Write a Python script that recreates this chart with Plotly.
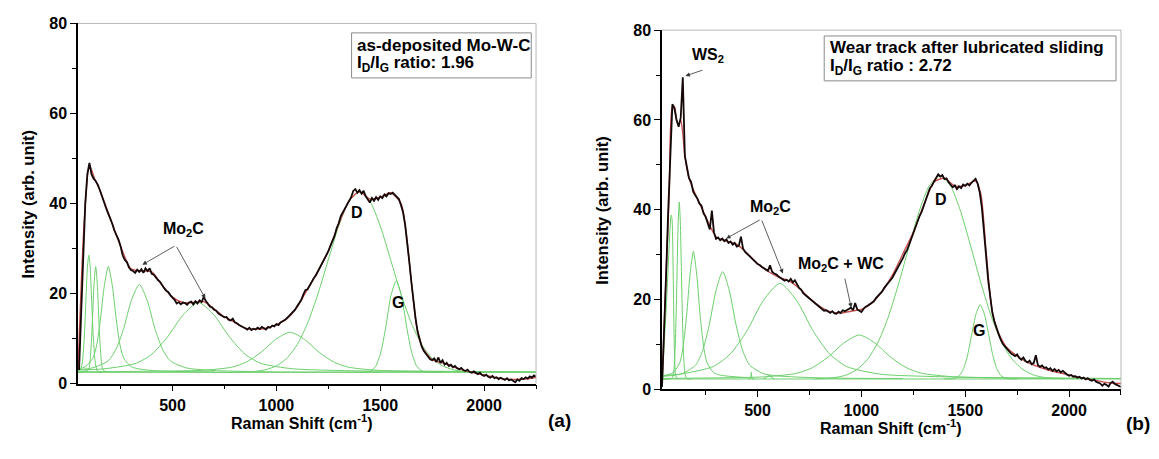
import plotly.graph_objects as go

FONT = "Liberation Sans"
GREEN = "#6ccf6c"
RED = "#c85050"
BLACK = "#140808"

# ---------------- Panel (a): as-deposited ----------------
a_x = list(range(50, 2251, 10))
a_y = [
    3, 16, 30, 40, 46.5, 49, 46.5, 45.5, 45, 44.2,
    43, 41.5, 40, 39, 37.8, 36.8, 35.5, 34, 33, 32,
    30.5, 28.5, 27.5, 27, 25.8, 25.2, 25, 24.6, 25.3, 24.8,
    25.4, 24.6, 25.6, 25, 25.6, 24.4, 24.2, 23.5, 23, 22.6,
    21.8, 21.2, 20.6, 20.3, 19.6, 19.2, 18.6, 17.8, 18.1, 17.6,
    18, 17.9, 17.5, 18, 18.2, 17.6, 18.3, 17.8, 18.5, 18.1,
    19.2, 18.4, 17.6, 17.1, 16.9, 16.4, 16.2, 15.6, 15.3, 15.0,
    14.7, 14.8, 14.2, 14.0, 14.4, 13.6, 13.4, 13.0, 12.8, 12.5,
    12.3, 12.0, 12.4, 11.9, 12.2, 12.0, 12.4, 12.1, 12.6, 12.3,
    12.0, 12.6, 12.4, 12.9, 12.7, 13.2, 13.0, 13.6, 13.8, 14.1,
    14.5, 15.0, 15.4, 16.0, 16.4, 17.2, 17.8, 18.6, 19.8, 20.8,
    20.9, 21.8, 22.6, 23.4, 24.0, 24.9, 25.8, 26.6, 27.5, 28.2,
    29.4, 30.6, 31.6, 32.8, 34.5, 35.6, 37.2, 38.0, 39.1, 39.6,
    40.6, 41.4, 42.8, 43.2, 42.4, 43.0, 42.2, 42.8, 41.6, 41.0,
    40.2, 41.2, 40.6, 41.4, 40.8, 41.6, 41.2, 42.0, 41.6, 42.3,
    42.1, 42.4, 42.0, 41.6, 41.0, 39.6, 38.0, 35.2, 31.5, 27.0,
    22.5, 18.0, 14.5, 11.5, 9.5, 8.2, 7.2, 6.5, 5.8, 5.4,
    5.2, 5.6, 4.8, 5.8, 4.6, 5.2, 4.2, 4.6, 3.9, 4.2,
    3.6, 3.9, 3.4, 3.2, 3.5, 3.0, 2.8, 3.1, 2.6, 2.4,
    2.7, 2.3, 2.1, 2.4, 1.9, 1.7, 2.0, 1.5, 1.3, 1.7,
    1.2, 1.4, 1.0, 1.3, 1.1, 0.8, 1.2, 0.7, 0.9, 0.5,
    0.3, 0.9, 0.6, 1.2, 1.0, 1.4, 1.1, 1.6, 1.3, 1.8,
    1.5,
]
a_fit_x = [45, 75, 100, 125, 150, 200, 250, 300, 350, 400, 450, 500, 550, 600, 650,
           700, 750, 800, 850, 900, 950, 1000, 1050, 1100, 1150, 1200, 1250, 1300, 1350, 1400,
           1450, 1500, 1550, 1600, 1625, 1650, 1675, 1700, 1750, 1800, 1900, 2000, 2100, 2200, 2250]
a_fit_y = [3, 36, 48.5, 45.5, 43, 36.8, 30.5, 25.5, 25, 24.8, 21.8, 19.2, 18, 18, 18.2,
           16.6, 14.8, 13.6, 12.3, 12.1, 12.3, 13.1, 14.4, 17.0, 21.0, 25.0, 29.4, 35.4, 40.6, 42.6,
           41.0, 41.4, 42.4, 40.0, 33.5, 22.5, 12.8, 8.3, 5.3, 4.6, 3.0, 1.9, 1.0, 1.0, 1.4]

a_base_x = [45, 2250]
a_base_y = [2.5, 2.5]
a_p1_x = [45, 55, 65, 75, 85, 91, 97, 103, 109, 119, 129, 140, 160]
a_p1_y = [2.6, 3.0, 4.4, 10.0, 20.5, 26.3, 28.5, 26.3, 20.5, 10.0, 4.4, 2.7, 2.5]
a_p2_x = [45, 95, 105, 115, 122, 130, 138, 145, 155, 165, 185]
a_p2_y = [2.5, 3.1, 6.2, 14.6, 22.0, 26.0, 22.0, 14.6, 6.2, 3.1, 2.5]
a_p3_x = [45, 79, 116, 135, 153, 172, 191, 210, 229, 247, 266, 303, 400, 700]
a_p3_y = [3.3, 3.7, 5.6, 8.6, 14.3, 21.8, 26.0, 21.8, 14.3, 8.6, 5.6, 3.7, 2.9, 2.6]
a_p4_x = [45, 115, 190, 228, 265, 302, 340, 378, 415, 452, 490, 565, 700, 1000, 1500]
a_p4_y = [3.1, 3.5, 5.05, 7.6, 12.25, 18.5, 22.0, 18.5, 12.25, 7.6, 5.05, 3.5, 2.9, 2.6, 2.55]
a_p5_x = [45, 175, 325, 400, 475, 550, 625, 700, 775, 850, 925, 1075, 1300, 1600, 2250]
a_p5_y = [3.0, 3.3, 4.5, 6.5, 10.3, 15.2, 18.0, 15.2, 10.3, 6.5, 4.5, 3.3, 2.9, 2.7, 2.55]
a_p6_x = [45, 506, 646, 786, 856, 926, 996, 1066, 1136, 1206, 1276, 1346, 1486, 1626, 2250]
a_p6_y = [2.6, 2.8, 2.95, 3.65, 4.8, 6.95, 9.8, 11.4, 9.8, 6.95, 4.8, 3.65, 2.95, 2.8, 2.6]
a_D_x = [700, 800, 900, 950, 1000, 1050, 1100, 1150, 1200, 1250, 1300, 1350, 1400,
         1450, 1500, 1550, 1600, 1650, 1700, 1750, 1800, 1850, 1900, 2000]
a_D_y = [2.5, 2.52, 2.72, 3.1, 3.94, 5.6, 8.65, 13.4, 19.9, 27.5, 35.0, 40.5, 42.5,
         40.5, 35.0, 27.5, 19.9, 13.4, 8.65, 5.6, 3.94, 3.1, 2.72, 2.52]
a_G_x = [1400, 1427, 1452, 1477, 1502, 1527, 1552, 1577, 1602, 1627, 1652, 1677, 1702, 1727, 1800]
a_G_y = [2.5, 2.53, 2.77, 3.77, 6.8, 12.65, 19.6, 22.8, 19.6, 12.65, 6.8, 3.77, 2.77, 2.53, 2.5]

# ---------------- Panel (b): wear track ----------------
b_x = list(range(40, 2251, 10))
b_y = [
    0.5, 12, 26, 40, 53, 63.5, 62.5, 60, 58.5, 60.5,
    69.5, 52, 49.5, 47, 46.2, 44.0, 43.2, 42.5, 41.4, 40.9,
    39.2, 38.4, 37.0, 35.6, 39.8, 35.0, 33.5, 33.8, 33.2, 33.6,
    33.0, 33.4, 32.6, 32.9, 32.2, 32.6, 31.8, 32.0, 34.0, 31.4,
    30.6, 30.2, 29.6, 29.2, 28.8, 28.4, 27.9, 27.7, 27.3, 27.0,
    26.8, 26.4, 27.6, 26.2, 25.8, 25.6, 25.2, 24.9, 24.6, 24.2,
    24.4, 24.0, 24.6, 23.8, 24.3, 23.4, 22.6, 22.2, 21.4, 21.0,
    20.6, 20.3, 19.9, 19.4, 19.0, 18.6, 18.3, 17.8, 17.5, 17.6,
    17.3, 17.0, 17.4, 16.9, 16.8, 17.3, 17.0, 17.6, 17.4, 17.7,
    17.9, 18.2, 17.6, 19.2, 17.8, 17.4, 17.2, 17.9, 18.4, 18.6,
    18.9, 19.3, 19.6, 20.3, 20.8, 21.3, 21.8, 22.6, 23.2, 23.8,
    24.2, 24.9, 25.8, 26.6, 27.3, 28.4, 29.2, 30.3, 31.0, 32.2,
    33.5, 35.0, 36.3, 37.2, 38.6, 39.5, 41.0, 42.4, 43.5, 44.8,
    45.4, 46.3, 47.2, 47.9, 47.4, 47.7, 46.8, 47.0, 46.1, 45.6,
    45.0, 45.4, 44.6, 45.2, 44.8, 45.6, 45.3, 45.8, 45.4, 46.0,
    46.4, 46.9, 45.8, 43.8, 40.5, 36.0, 30.0, 24.5, 20.4, 17.2,
    15.2, 13.6, 12.4, 11.2, 10.2, 9.6, 9.0, 8.6, 8.0, 7.7,
    7.4, 7.8, 7.0, 6.6, 7.1, 6.3, 6.0, 6.4, 5.6, 5.9,
    7.6, 5.4, 5.0, 5.3, 4.8, 4.9, 4.4, 4.7, 4.1, 4.5,
    4.0, 4.3, 3.8, 4.1, 3.6, 3.3, 3.0, 3.2, 2.8, 2.9,
    2.6, 2.8, 2.4, 2.6, 2.2, 2.5, 2.1, 1.9, 2.2, 1.7,
    1.5, 1.3, 0.8, 1.2, 1.0, 0.6, 1.4, 1.7, 1.2, 1.0,
    0.7, 0.5,
]
b_fit_x = [40, 60, 75, 90, 100, 110, 120, 130, 140, 150, 170, 200, 250, 300, 350,
           400, 450, 500, 550, 600, 650, 700, 750, 800, 850, 900, 950, 1000, 1050, 1100,
           1150, 1200, 1250, 1300, 1350, 1400, 1450, 1500, 1550, 1575, 1600, 1625, 1650, 1700, 1750,
           1800, 1900, 2000, 2100, 2200, 2250]
b_fit_y = [1, 26, 44, 63, 63, 60, 59, 60, 57, 52, 47, 43.5, 38.5, 34, 33,
           32.3, 30.3, 28, 26.3, 25, 24.2, 22.5, 20.3, 18.5, 17.3, 17.0, 17.4, 17.8, 19.2, 21.8,
           25.5, 30.2, 35.0, 41.0, 46.2, 47.0, 45.3, 45.4, 46.4, 43.5, 31.0, 19.0, 13.6, 9.3, 7.4,
           6.0, 4.3, 3.2, 2.2, 1.4, 1.3]

b_base_x = [40, 2250]
b_base_y = [2.3, 2.3]
b_p1_x = [42, 63, 84, 88, 94, 100, 106, 115]
b_p1_y = [2.5, 20.6, 38.8, 38.0, 25.0, 8.0, 3.0, 2.3]
b_p2_x = [40, 85, 93, 98, 103, 108, 113, 118, 123, 128, 133, 138, 143, 148, 153, 161, 180]
b_p2_y = [2.3, 2.4, 2.97, 4.6, 8.7, 16.5, 27.3, 37.4, 41.7, 37.4, 27.3, 16.5, 8.7, 4.6, 2.97, 2.4, 2.3]
b_p3_x = [41, 61, 94, 126, 142, 158.5, 175, 191, 207, 223.5, 240, 256, 288, 321, 450]
b_p3_y = [2.9, 3.15, 3.75, 6.0, 9.7, 16.5, 25.6, 30.7, 25.6, 16.5, 9.7, 6.0, 3.75, 3.15, 2.6]
b_p4_x = [42, 72, 137, 202, 234.5, 267, 299.5, 332, 364.5, 397, 429.5, 462, 527, 592, 800, 1200]
b_p4_y = [2.9, 3.0, 3.5, 5.4, 8.5, 14.25, 21.9, 26.2, 21.9, 14.25, 8.5, 5.4, 3.5, 3.0, 2.55, 2.4]
b_p5_x = [48, 128, 288, 368, 448, 528, 608, 688, 768, 848, 928, 1088, 1300, 1700, 2250]
b_p5_y = [3.1, 3.39, 5.1, 7.84, 12.95, 19.8, 23.6, 19.8, 12.95, 7.84, 5.1, 3.39, 2.9, 2.55, 2.4]
b_p6_x = [40, 390, 540, 690, 765, 840, 915, 990, 1065, 1140, 1215, 1290, 1440, 1590, 2250]
b_p6_y = [2.42, 2.6, 2.8, 3.58, 4.85, 7.2, 10.3, 12.1, 10.3, 7.2, 4.85, 3.58, 2.8, 2.6, 2.42]
b_D_x = [778, 878, 928, 978, 1028, 1078, 1128, 1178, 1228, 1278, 1328, 1378, 1428,
         1478, 1528, 1578, 1628, 1678, 1728, 1778, 1828, 1878, 1978]
b_D_y = [2.33, 2.67, 3.2, 4.4, 6.6, 10.3, 15.9, 23.3, 31.6, 39.6, 45.4, 47.5, 45.4,
         39.6, 31.6, 23.3, 15.9, 10.3, 6.6, 4.4, 3.2, 2.67, 2.33]
b_G_x = [1400, 1432, 1452, 1472, 1492, 1512, 1532, 1552, 1572, 1592, 1612, 1632, 1652, 1672, 1692, 1712, 1750]
b_G_y = [2.3, 2.32, 2.5, 3.06, 4.6, 7.75, 12.4, 16.8, 18.8, 16.8, 12.4, 7.75, 4.6, 3.06, 2.5, 2.32, 2.3]
b_s1_x = [455, 466, 470, 474, 485]
b_s1_y = [2.3, 2.4, 3.8, 2.4, 2.3]
b_s2_x = [530, 545, 555, 565, 580]
b_s2_y = [2.3, 2.8, 3.2, 2.8, 2.3]

x_ticks = [500, 1000, 1500, 2000]
y_ticks = [0, 20, 40, 60, 80]

fig = go.Figure()


def add_line(x, y, color, width, xa, ya, shape="linear"):
    fig.add_trace(go.Scatter(
        x=x, y=y, mode="lines",
        line=dict(color=color, width=width, shape=shape, smoothing=0.7),
        xaxis=xa, yaxis=ya, hoverinfo="skip", showlegend=False))


a_components = [(a_base_x, a_base_y), (a_p1_x, a_p1_y), (a_p2_x, a_p2_y), (a_p3_x, a_p3_y),
                (a_p4_x, a_p4_y), (a_p5_x, a_p5_y), (a_p6_x, a_p6_y), (a_D_x, a_D_y), (a_G_x, a_G_y)]
b_components = [(b_base_x, b_base_y), (b_p1_x, b_p1_y), (b_p2_x, b_p2_y), (b_p3_x, b_p3_y),
                (b_p4_x, b_p4_y), (b_p5_x, b_p5_y), (b_p6_x, b_p6_y), (b_D_x, b_D_y), (b_G_x, b_G_y),
                (b_s1_x, b_s1_y), (b_s2_x, b_s2_y)]

for cx, cy in a_components:
    add_line(cx, cy, GREEN, 1, "x", "y", "spline")
for cx, cy in b_components:
    add_line(cx, cy, GREEN, 1, "x2", "y2", "spline")

add_line(a_fit_x, a_fit_y, RED, 1.4, "x", "y", "spline")
add_line(b_fit_x, b_fit_y, RED, 1.4, "x2", "y2", "spline")
add_line(a_x, a_y, BLACK, 1.8, "x", "y")
add_line(b_x, b_y, BLACK, 1.8, "x2", "y2")

tickfont = dict(family=FONT, size=16, color="black", weight="bold")
common = dict(showgrid=False, zeroline=False, showline=True, linecolor="black", linewidth=1.5,
              ticks="outside", ticklen=6, tickwidth=1.3, tickcolor="black", tickfont=tickfont)
xminor = dict(ticks="outside", ticklen=4, tickwidth=1, tickcolor="black", dtick=250, tick0=0)
yminor = dict(ticks="outside", ticklen=4, tickwidth=1, tickcolor="black", dtick=10, tick0=0)

fig.update_layout(
    width=1159, height=459, margin=dict(l=0, r=0, t=0, b=0),
    paper_bgcolor="white", plot_bgcolor="white", showlegend=False,
    xaxis=dict(domain=[0.0673, 0.4625], range=[45, 2250], anchor="y", tickvals=x_ticks, minor=xminor, **common),
    yaxis=dict(domain=[0.1503, 0.9651], range=[0, 80], anchor="x", tickvals=y_ticks, minor=yminor, **common),
    xaxis2=dict(domain=[0.5712, 0.9672], range=[40, 2250], anchor="y2", tickvals=x_ticks, minor=xminor, **common),
    yaxis2=dict(domain=[0.1373, 0.9499], range=[0, 80], anchor="x2", tickvals=y_ticks, minor=yminor, **common),
)

# grey top/right frame and the two text boxes
shapes = []
for xr, yr in (("x", "y"), ("x2", "y2")):
    shapes.append(dict(type="line", xref=xr + " domain", yref=yr + " domain", x0=0, x1=1, y0=1, y1=1,
                       line=dict(color="#b8b8b8", width=1)))
    shapes.append(dict(type="line", xref=xr + " domain", yref=yr + " domain", x0=1, x1=1, y0=0, y1=1,
                       line=dict(color="#b8b8b8", width=1)))
shapes.append(dict(type="rect", xref="x", yref="y", x0=1362, x1=2227, y0=67.9, y1=77.9,
                   line=dict(color="#8a8a8a", width=1), fillcolor="white", layer="below"))
shapes.append(dict(type="rect", xref="x2", yref="y2", x0=821, x1=2226, y0=68.7, y1=78.7,
                   line=dict(color="#8a8a8a", width=1), fillcolor="white", layer="below"))
fig.update_layout(shapes=shapes)

ann = []


def label(text, x, y, xr, yr, size=16, xanchor="center"):
    ann.append(dict(text="<b>" + text + "</b>", x=x, y=y, xref=xr, yref=yr, showarrow=False,
                    xanchor=xanchor, yanchor="middle", font=dict(family=FONT, size=size, color="black")))


def arrow(hx, hy, tx, ty, xr, yr):
    ann.append(dict(text="", x=hx, y=hy, ax=tx, ay=ty, xref=xr, yref=yr, axref=xr, ayref=yr,
                    showarrow=True, arrowhead=2, arrowsize=1.1, arrowwidth=0.8, arrowcolor="#333333"))


# axis titles
ann.append(dict(text="<b>Intensity (arb. unit)</b>", x=0.0155, y=0.5577, xref="paper", yref="paper",
                textangle=-90, showarrow=False, font=dict(family=FONT, size=16.5, color="black")))
ann.append(dict(text="<b>Intensity (arb. unit)</b>", x=0.5194, y=0.5436, xref="paper", yref="paper",
                textangle=-90, showarrow=False, font=dict(family=FONT, size=16.5, color="black")))
label("Raman Shift (cm<sup>-1</sup>)", 0.2606, 0.064, "paper", "paper")
label("Raman Shift (cm<sup>-1</sup>)", 0.7688, 0.052, "paper", "paper")
label("(a)", 0.483, 0.066, "paper", "paper", size=19)
label("(b)", 0.982, 0.060, "paper", "paper", size=19)

# panel a texts
label("as-deposited Mo-W-C", 1377, 75.1, "x", "y", size=17, xanchor="left")
label("I<sub>D</sub>/I<sub>G</sub> ratio: 1.96", 1377, 70.9, "x", "y", size=17, xanchor="left")
label("Mo<sub>2</sub>C", 552, 34.3, "x", "y")
label("D", 1389, 37.9, "x", "y")
label("G", 1585, 17.9, "x", "y")
arrow(355, 26.4, 516, 30.7, "x", "y")
arrow(658, 18.9, 516, 30.7, "x", "y")

# panel b texts
label("Wear track after lubricated sliding", 839, 76.2, "x2", "y2", size=17, xanchor="left")
label("I<sub>D</sub>/I<sub>G</sub> ratio : 2.72", 839, 71.9, "x2", "y2", size=17, xanchor="left")
label("WS<sub>2</sub>", 262, 74.4, "x2", "y2")
label("Mo<sub>2</sub>C", 563, 40.4, "x2", "y2")
label("Mo<sub>2</sub>C + WC", 901, 27.9, "x2", "y2")
label("D", 1383, 42.2, "x2", "y2")
label("G", 1566, 13.2, "x2", "y2")
arrow(153, 69.8, 242, 71.2, "x2", "y2")
arrow(349, 33.6, 518, 37.9, "x2", "y2")
arrow(622, 25.8, 518, 37.9, "x2", "y2")
arrow(951, 18.2, 919, 25.0, "x2", "y2")

fig.update_layout(annotations=ann)

fig.write_html("out.html", config={"displayModeBar": False},
               post_script="document.body.style.margin='0';document.body.style.overflow='hidden';")
